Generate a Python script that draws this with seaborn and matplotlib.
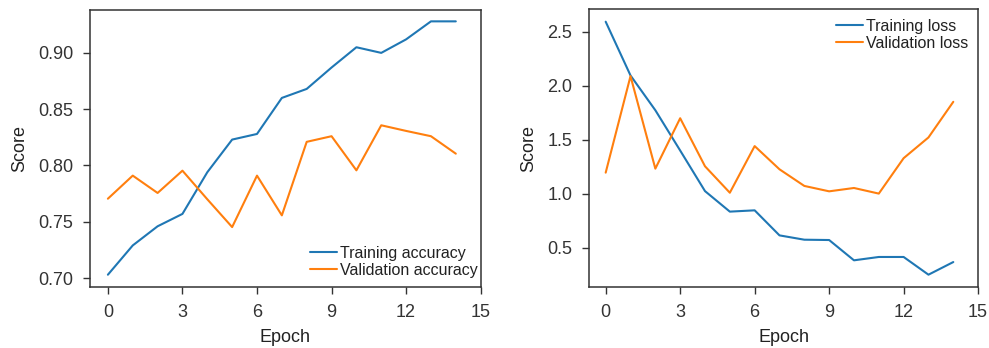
import numpy as np
import pandas as pd
import seaborn as sns
import matplotlib.pyplot as plt

epochs = list(range(15))
train_acc = [0.703, 0.729, 0.746, 0.757, 0.794, 0.823, 0.828, 0.860, 0.868, 0.887,
             0.905, 0.900, 0.912, 0.928, 0.928]
val_acc = [0.7705, 0.791, 0.7756, 0.7954, 0.770, 0.7453, 0.791, 0.7557, 0.821, 0.826,
           0.7957, 0.8357, 0.8307, 0.826, 0.8105]
train_loss = [2.593, 2.095, 1.773, 1.400, 1.024, 0.834, 0.846, 0.614, 0.574, 0.571,
              0.383, 0.414, 0.414, 0.250, 0.367]
val_loss = [1.195, 2.089, 1.232, 1.699, 1.254, 1.009, 1.441, 1.226, 1.072, 1.022,
            1.053, 1.001, 1.329, 1.521, 1.851]
x_ticks = [0, 3, 6, 9, 12, 15]

sns.set_style("ticks")
plt.rcParams['font.family'] = ['Liberation Sans', 'DejaVu Sans']
plt.rcParams['axes.edgecolor'] = '#333333'
plt.rcParams['xtick.color'] = '#333333'
plt.rcParams['ytick.color'] = '#333333'
plt.rcParams['text.color'] = '#222222'
plt.rcParams['axes.labelcolor'] = '#222222'

acc_df = pd.DataFrame({
    "Epoch": epochs * 2,
    "Score": train_acc + val_acc,
    "series": ["Training accuracy"] * 15 + ["Validation accuracy"] * 15,
})
loss_df = pd.DataFrame({
    "Epoch": epochs * 2,
    "Score": train_loss + val_loss,
    "series": ["Training loss"] * 15 + ["Validation loss"] * 15,
})
colors = ["#1f77b4", "#ff7f0e"]

fig = plt.figure(figsize=(9.89, 3.48), dpi=100)
ax1 = fig.add_axes([0.091, 0.175, 0.395, 0.796])
ax2 = fig.add_axes([0.5956, 0.175, 0.3934, 0.798])

sns.lineplot(data=acc_df, x="Epoch", y="Score", hue="series", palette=colors,
             linewidth=1.5, ax=ax1)
sns.lineplot(data=loss_df, x="Epoch", y="Score", hue="series", palette=colors,
             linewidth=1.5, ax=ax2)

ax1.set_xlim(-0.72, 15)
ax1.set_ylim(0.692, 0.938)
ax1.set_yticks([0.70, 0.75, 0.80, 0.85, 0.90])
ax2.set_xlim(-0.67, 15)
ax2.set_ylim(0.135, 2.707)
ax2.set_yticks([0.5, 1.0, 1.5, 2.0, 2.5])

for ax, loc, anchor in [(ax1, "lower right", (1.018, 0.0)), (ax2, "upper right", (1.0, 1.0))]:
    ax.set_xticks(x_ticks)
    ax.tick_params(labelsize=13, length=5, width=1, pad=7)
    ax.set_xlabel("Epoch", fontsize=13, labelpad=6)
    ax.set_ylabel("Score", fontsize=13, labelpad=7)
    for s in ax.spines.values():
        s.set_linewidth(1.1)
    ax.legend(loc=loc, bbox_to_anchor=anchor, frameon=False, fontsize=11.5,
              handlelength=1.7, handletextpad=0.2, labelspacing=0.1, borderaxespad=0.2)

fig.savefig("out.png", dpi=100)
